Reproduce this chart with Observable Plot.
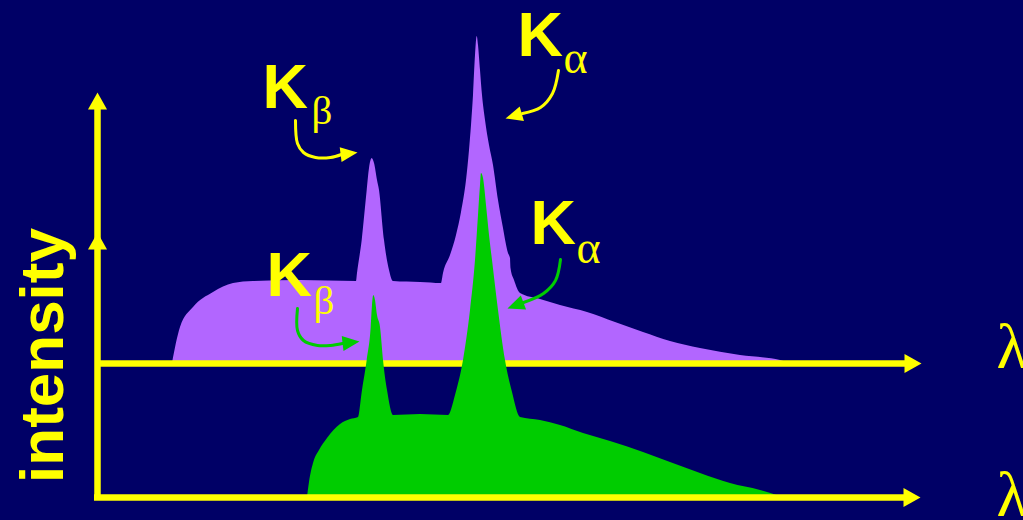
<!DOCTYPE html>
<html><head><meta charset="utf-8">
<script src="https://cdn.jsdelivr.net/npm/d3@7"></script>
<script src="https://cdn.jsdelivr.net/npm/@observablehq/plot@0.6"></script>
<style>html,body{margin:0;padding:0;background:#000066;overflow:hidden}</style>
</head><body><div id="chart"></div>
<script>
// Upper spectrum (higher tube voltage) – wavelength (arb. units) and intensity above its own baseline
const purpleLambda = [75,83,96,116,136,156,203,259,260,264.7,269.7,272,274.7,277,280,282,287,292,296,323,344,346,353,359,364,369,372,374,376,378,379.7,381,383,385,388,392,396,401,406,411,413,413.5,417,423,443,463,490,518,546,573,603,643,683,693];
const purpleIntensity = [0,36,56,71,80,82,83,82,90,123,173,195,205,200,183,173,123,93,82,81,80,90,108,128,151,183,213,238,268,308,327,318,293,268,243,218,198,163,135,110,105,95,83,70,64,58,51,41,31,22,15,8,3,0];
// Lower spectrum
const greenLambda = [210,212,216,222,230,243,253,261,265,269.7,273.7,275,276.3,278,280,283,286,290,296,323,351,358,366,373,378,381,383,384,386,389,392,395,401,408,415,423,443,463,486,513,546,573,603,633,663,685];
const greenIntensity = [0,15,34,47,59,73,78,80,107,137,170,192,202,197,182,170,137,107,82,83,82,102,137,187,237,282,312,324,319,292,262,237,187,137,105,80,77,72,64,56,45,35,24,14,7,0];

const upperBaseline = 134;          // intensity offset of the upper spectrum's axis
const lowerAxisTop = 265;           // top of the lower spectrum's intensity axis
const upperAxisTop = 405;           // top of the upper spectrum's intensity axis
const lambdaAxisEnd = [824, 823];   // ends of the upper / lower wavelength axes

// Annotation arrows (path points, last point = arrow tip)
const arrowKbUpper = [[198,377],[200,354],[206,345],[218,340],[233,340],[244,343],[260,345]];
const arrowKbLower = [[200,189],[200,167],[206,157],[220,152],[233,152],[245,154],[262,156]];
const arrowKaUpper = [[461,427],[455,404],[443,390],[425,384],[408,379]];
const arrowKaLower = [[463,238],[458,217],[446,204],[426,195],[410,189]];

// Labels
const kLabels = [
  {t:"K", x:165, y:390}, {t:"K", x:169, y:202},
  {t:"K", x:420, y:442}, {t:"K", x:433, y:254}
];
const subLabels = [
  {t:"β", x:214, y:374, s:41}, {t:"β", x:216, y:184, s:41},
  {t:"α", x:466, y:425, s:46}, {t:"α", x:479, y:235, s:46}
];
const lambdaLabels = [{t:"λ", x:899, y:130}, {t:"λ", x:899, y:-18}];
const yTitle = [{t:"intensity", x:-35, y:142}];

const YELLOW = "#ffff00", PURPLE = "#b266ff", GREEN = "#00cc00", BG = "#000066";

const purple = purpleLambda.map((x, i) => ({x, y: upperBaseline + purpleIntensity[i]}));
const green = greenLambda.map((x, i) => ({x, y: greenIntensity[i]}));

function head(len, wid) {
  return {draw(ctx) { ctx.moveTo(0, 0); ctx.lineTo(-wid / 2, len); ctx.lineTo(wid / 2, len); ctx.closePath(); }};
}
const axisHead = head(17, 19);
const noteHead = head(17, 15);

function arrowMarks(pts, color) {
  const body = pts.slice(0, -1).map(([x, y]) => ({x, y}));
  const [px, py] = pts[pts.length - 2], [tx, ty] = pts[pts.length - 1];
  const angle = Math.atan2(tx - px, ty - py) * 180 / Math.PI;
  return [
    Plot.line(body, {x: "x", y: "y", curve: "catmull-rom", stroke: color, strokeWidth: 3, strokeLinecap: "round"}),
    Plot.dot([{x: tx, y: ty}], {x: "x", y: "y", symbol: noteHead, fill: color, stroke: "none", rotate: angle})
  ];
}

const chart = Plot.plot({
  width: 1023, height: 520, margin: 0,
  x: {domain: [-97, 926], axis: null},
  y: {domain: [-23, 497], axis: null},
  style: {background: BG, overflow: "hidden"},
  marks: [
    Plot.areaY(purple, {x: "x", y1: upperBaseline, y2: "y", fill: PURPLE, curve: "monotone-x"}),
    Plot.ruleY([upperBaseline], {x1: 0, x2: lambdaAxisEnd[0] - 12, stroke: YELLOW, strokeWidth: 6.5}),
    Plot.dot([{x: lambdaAxisEnd[0], y: upperBaseline}], {x: "x", y: "y", symbol: axisHead, fill: YELLOW, stroke: "none", rotate: 90}),
    Plot.areaY(green, {x: "x", y1: 0, y2: "y", fill: GREEN, curve: "monotone-x"}),
    Plot.ruleY([0], {x1: -3, x2: lambdaAxisEnd[1] - 12, stroke: YELLOW, strokeWidth: 6.5}),
    Plot.dot([{x: lambdaAxisEnd[1], y: 0}], {x: "x", y: "y", symbol: axisHead, fill: YELLOW, stroke: "none", rotate: 90}),
    Plot.ruleX([0], {y1: -3, y2: upperAxisTop - 12, stroke: YELLOW, strokeWidth: 6.5}),
    Plot.dot([{x: 0, y: upperAxisTop}, {x: 0, y: lowerAxisTop}], {x: "x", y: "y", symbol: axisHead, fill: YELLOW, stroke: "none", rotate: 0}),
    ...arrowMarks(arrowKbUpper, YELLOW),
    ...arrowMarks(arrowKbLower, GREEN),
    ...arrowMarks(arrowKaUpper, YELLOW),
    ...arrowMarks(arrowKaLower, GREEN),
    Plot.text(kLabels, {x: "x", y: "y", text: "t", fill: YELLOW, fontSize: 63, fontWeight: "bold", fontFamily: "Liberation Sans, Arial, sans-serif", textAnchor: "start", lineAnchor: "bottom"}),
    Plot.text(subLabels, {x: "x", y: "y", text: "t", fill: YELLOW, fontSize: d => d.s, fontFamily: "Liberation Serif, Times New Roman, serif", textAnchor: "start", lineAnchor: "bottom"}),
    Plot.text(lambdaLabels, {x: "x", y: "y", text: "t", fill: YELLOW, fontSize: 64, fontFamily: "Liberation Serif, Times New Roman, serif", textAnchor: "start", lineAnchor: "bottom"}),
    Plot.text(yTitle, {x: "x", y: "y", text: "t", fill: YELLOW, fontSize: 62, fontWeight: "bold", fontFamily: "Liberation Sans, Arial, sans-serif", textAnchor: "middle", lineAnchor: "bottom", rotate: -90})
  ]
});
document.getElementById("chart").appendChild(chart);
</script>
</body></html>
